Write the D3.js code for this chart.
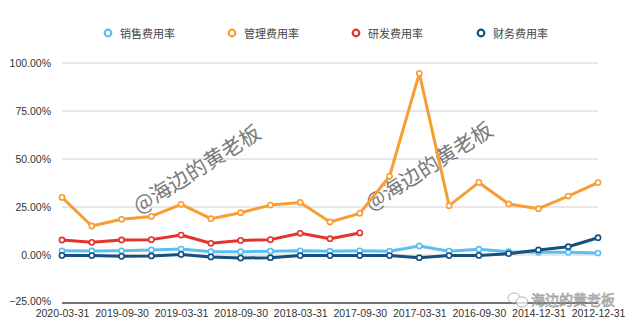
<!DOCTYPE html>
<html>
<head>
<meta charset="utf-8">
<script src="https://cdn.jsdelivr.net/npm/d3@7"></script>
<style>
html,body{margin:0;padding:0;background:#fff;}
svg{display:block;font-family:"Noto Sans CJK SC","Liberation Sans",Arial,sans-serif;}
</style>
</head>
<body>
<svg id="chart" width="640" height="335"></svg>
<script>
const categories = ["2020-03-31","2019-12-31","2019-09-30","2019-06-30","2019-03-31","2018-12-31","2018-09-30","2018-06-30","2018-03-31","2017-12-31","2017-09-30","2017-06-30","2017-03-31","2016-12-31","2016-09-30","2015-12-31","2014-12-31","2013-12-31","2012-12-31"];
const tickLabels = ["2020-03-31","2019-09-30","2019-03-31","2018-09-30","2018-03-31","2017-09-30","2017-03-31","2016-09-30","2014-12-31","2012-12-31"];
const yTicks = [-0.25, 0, 0.25, 0.5, 0.75, 1.0];
const seriesNames = ["销售费用率","管理费用率","研发费用率","财务费用率"];
const sales   = [2.2,2.1,2.2,2.6,3.1,1.7,1.7,2.0,2.2,2.0,2.2,2.0,4.7,2.0,3.0,1.7,1.4,1.4,1.0];
const admin   = [30.0,15.1,18.6,20.1,26.4,18.9,22.0,26.0,27.4,17.2,21.7,41.0,94.6,25.7,37.8,26.6,24.1,30.7,37.7];
const rnd     = [7.8,6.6,7.8,8.0,10.4,6.1,7.6,8.0,11.3,8.5,11.5,null,null,null,null,null,null,null,null];
const finance = [-0.2,-0.3,-0.7,-0.5,0.3,-1.0,-1.6,-1.4,-0.3,-0.3,-0.3,-0.3,-1.4,-0.3,-0.2,0.7,2.6,4.3,9.0];
const seriesValues = [sales, admin, rnd, finance];
const colors = ["#5cbef2","#f79d33","#e2332c","#15507f"];

const svg = d3.select("#chart");
const x = d3.scalePoint().domain(categories).range([62, 598]);
const y = d3.scaleLinear().domain([-0.25, 1.0]).range([303, 63]);

// gridlines
svg.append("g").selectAll("line").data(yTicks.filter(d => d !== -0.25)).join("line")
  .attr("x1", 62).attr("x2", 598)
  .attr("y1", d => y(d)).attr("y2", d => y(d))
  .attr("stroke", "#cfcfcf").attr("stroke-width", 1);

// y labels
const yAxis = d3.axisLeft(y).tickValues(yTicks).tickSize(0).tickPadding(0)
  .tickFormat(d => d3.format(".2f")(d * 100) + "%");
const gy = svg.append("g").attr("transform", "translate(51,0)").call(yAxis);
gy.select(".domain").remove();
gy.selectAll("text").attr("font-size", 10.5).attr("fill", "#333")
  .attr("font-family", "Liberation Sans, Arial, sans-serif");
gy.selectAll(".tick").filter(d => d === -0.25).select("text").attr("dy", "0.1em");

// bottom axis line
svg.append("line").attr("x1", 62).attr("x2", 598).attr("y1", y(-0.25)).attr("y2", y(-0.25))
  .attr("stroke", "#444").attr("stroke-width", 1.5);

// x labels
const xAxis = d3.axisBottom(x).tickValues(tickLabels).tickSize(0).tickPadding(0);
const gx = svg.append("g").attr("transform", "translate(0,310)").call(xAxis);
gx.select(".domain").remove();
gx.selectAll("text").attr("font-size", 10.5).attr("fill", "#333")
  .attr("font-family", "Liberation Sans, Arial, sans-serif");

// watermarks (behind lines)
[[196,168],[428,165]].forEach(([cx, cy]) => {
  svg.append("text").attr("transform", `translate(${cx},${cy}) rotate(-32)`)
    .attr("text-anchor", "middle").attr("dominant-baseline", "central")
    .attr("font-size", 21).attr("fill", "#7a7a7a")
    .text("@海边的黄老板");
});

// lines
const line = d3.line().defined(d => d.v !== null)
  .x(d => x(d.c)).y(d => y(d.v / 100));
seriesValues.forEach((vals, i) => {
  const data = categories.map((c, j) => ({c, v: vals[j]}));
  const g = svg.append("g");
  g.append("path").datum(data).attr("d", line)
    .attr("fill", "none").attr("stroke", colors[i]).attr("stroke-width", 3)
    .attr("stroke-linejoin", "round");
  g.selectAll("circle").data(data.filter(d => d.v !== null)).join("circle")
    .attr("cx", d => x(d.c)).attr("cy", d => y(d.v / 100)).attr("r", 2.6)
    .attr("fill", "#fff").attr("stroke", colors[i]).attr("stroke-width", 1.6);
});

// legend
const lx = [108, 232, 356, 481];
seriesNames.forEach((n, i) => {
  svg.append("circle").attr("cx", lx[i]).attr("cy", 33).attr("r", 3.3)
    .attr("fill", "#fff").attr("stroke", colors[i]).attr("stroke-width", 2.2);
  svg.append("text").attr("x", lx[i] + 12).attr("y", 33).attr("dominant-baseline", "central")
    .attr("font-size", 11).attr("fill", "#444").text(n);
});

// bottom-right wechat watermark
const wm = svg.append("g").attr("opacity", 0.75);
wm.append("ellipse").attr("cx", 514).attr("cy", 298).attr("rx", 6).attr("ry", 5)
  .attr("fill", "#fff").attr("stroke", "#999").attr("stroke-width", 1);
wm.append("ellipse").attr("cx", 522).attr("cy", 302).attr("rx", 6).attr("ry", 5)
  .attr("fill", "#fff").attr("stroke", "#999").attr("stroke-width", 1);
wm.append("text").attr("x", 531).attr("y", 299).attr("dominant-baseline", "central")
  .attr("font-size", 14).attr("fill", "#fff").attr("stroke", "#8a8a8a").attr("stroke-width", 0.8)
  .text("海边的黄老板");
</script>
</body>
</html>
